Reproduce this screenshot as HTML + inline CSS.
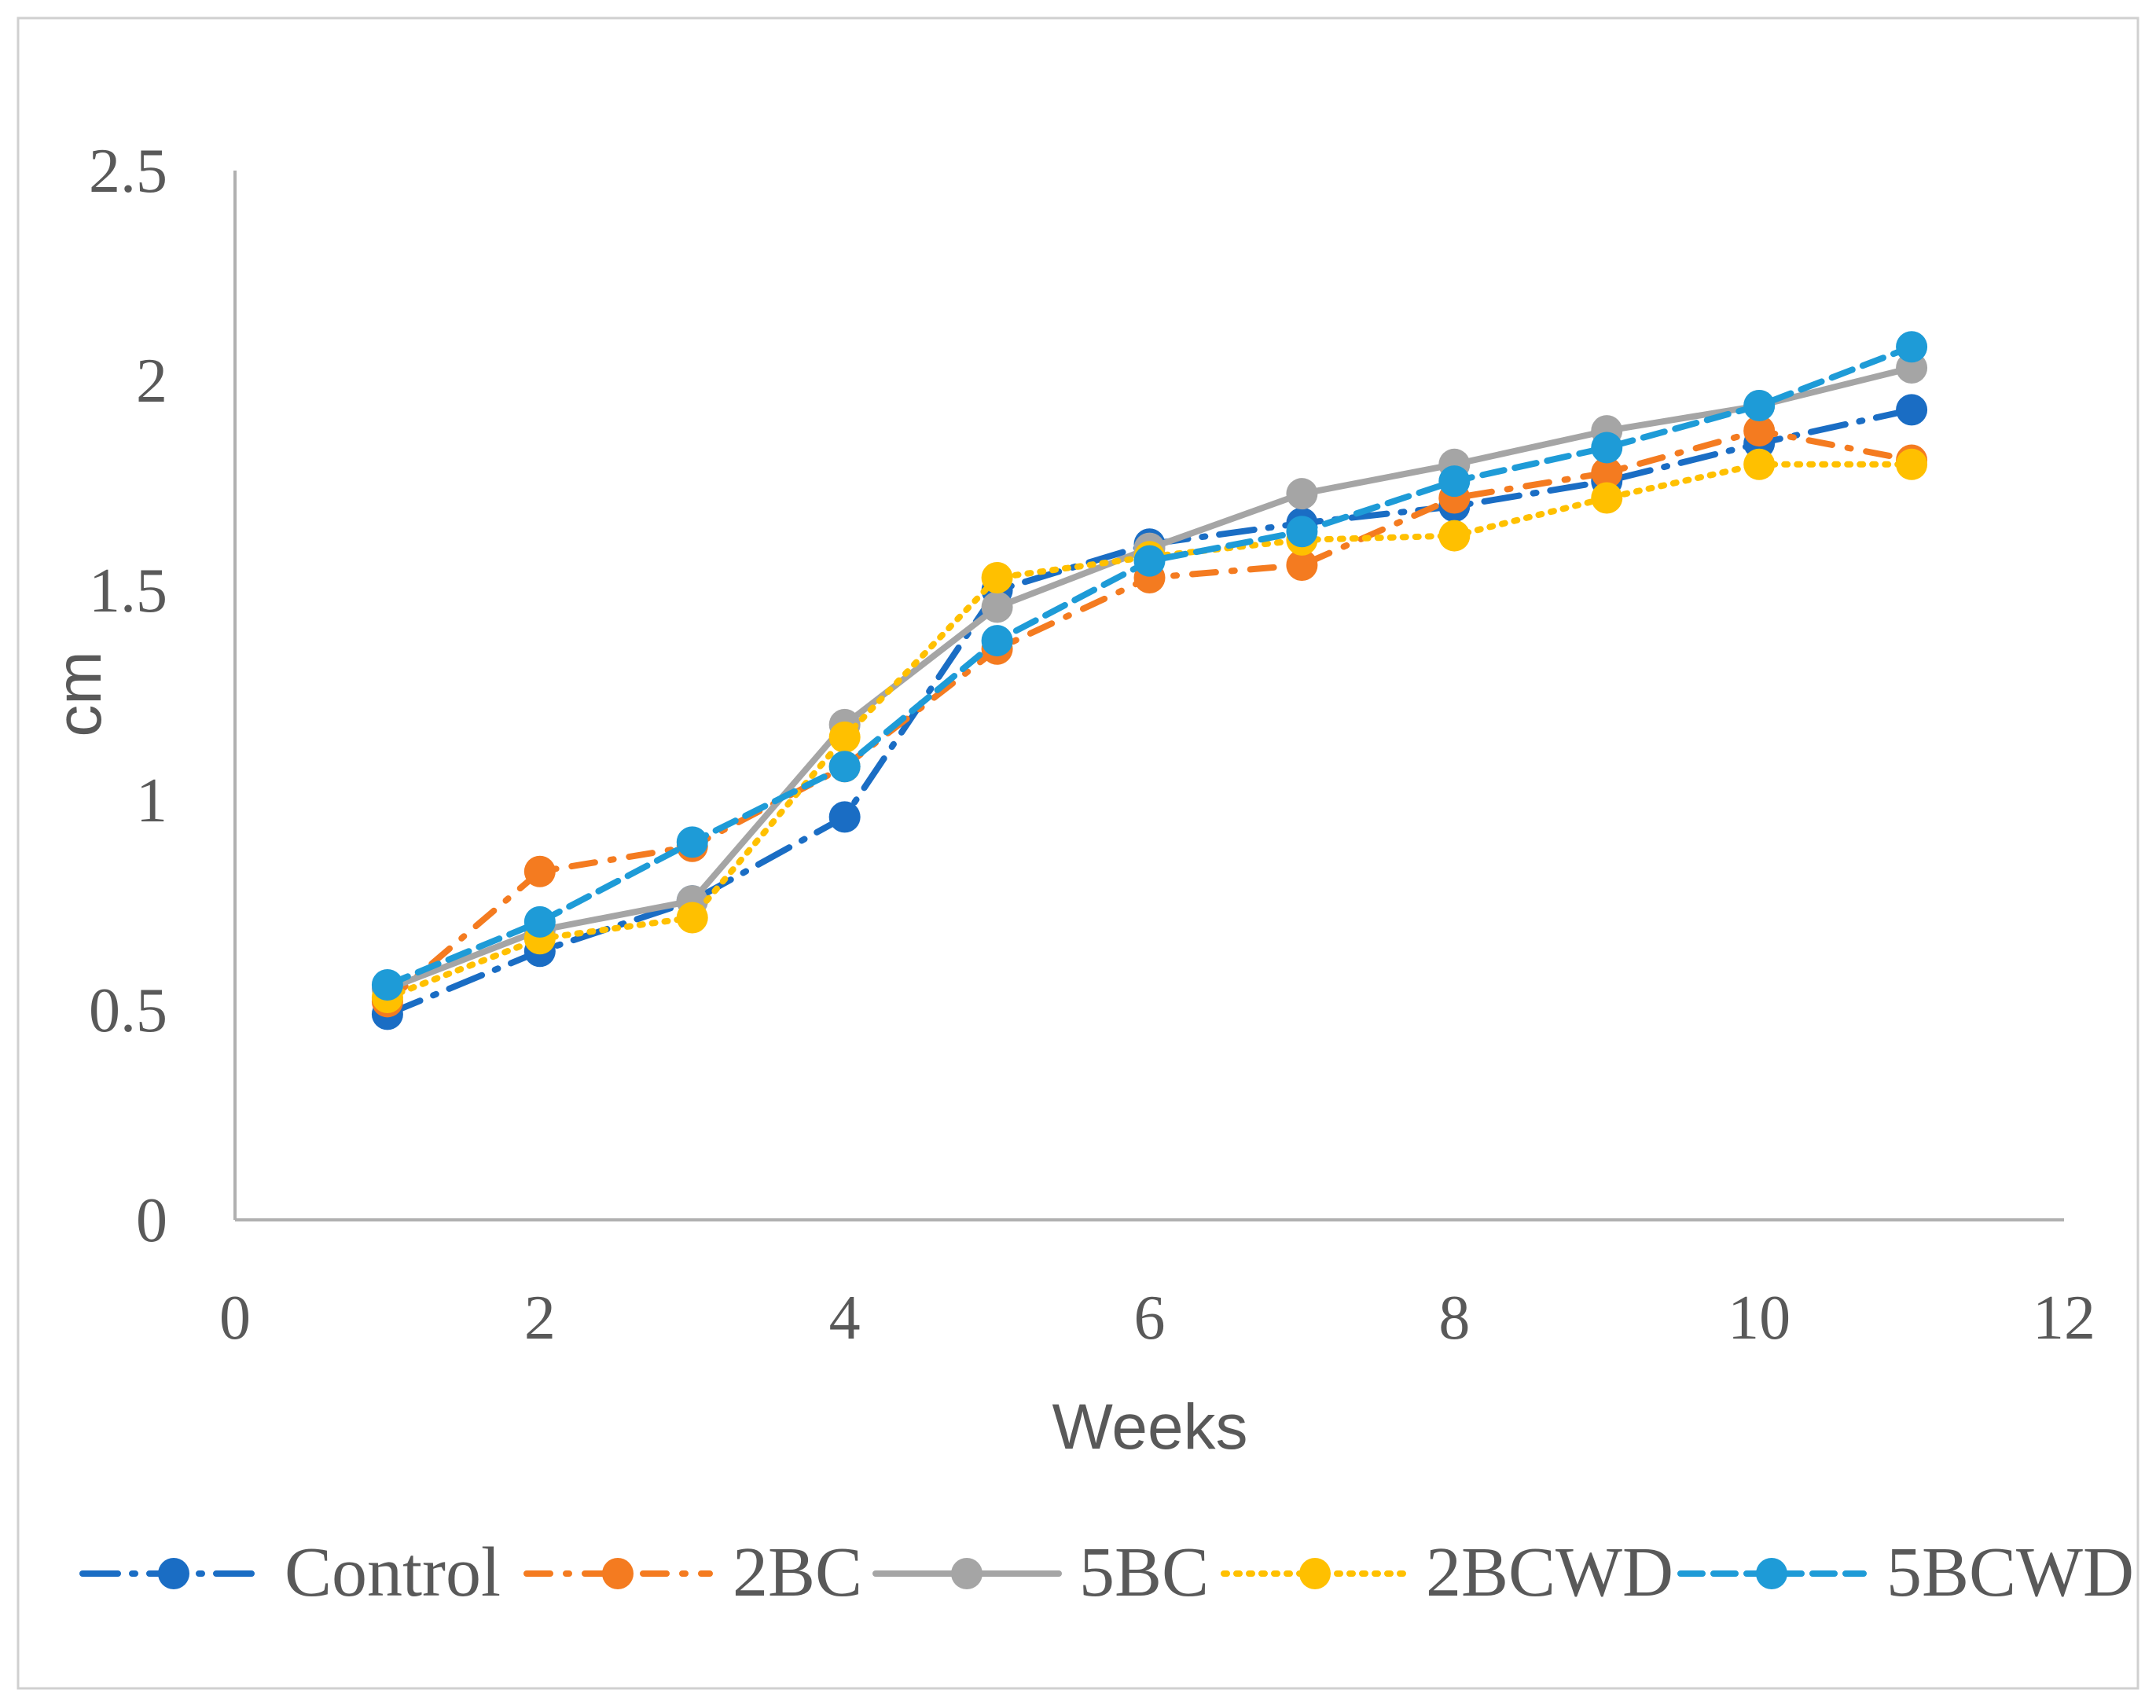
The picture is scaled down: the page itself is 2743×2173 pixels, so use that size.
<!DOCTYPE html>
<html><head><meta charset="utf-8"><style>
html,body{margin:0;padding:0;background:#fff}
svg{display:block}
</style></head><body>
<svg id="chart" width="2743" height="2173" viewBox="0 0 2743 2173" xmlns="http://www.w3.org/2000/svg">
<rect x="23" y="23" width="2697" height="2125" fill="#fff" stroke="#d0d0d0" stroke-width="3"/>
<g id="grid"></g>
<g id="series"></g>
<g id="legend"></g>
</svg>
<script>
const weeks = [1,2,3,4,5,6,7,8,9,10,11];
const controlVals = [0.49,0.64,0.76,0.96,1.50,1.61,1.66,1.70,1.76,1.85,1.93];
const bc2Vals = [0.52,0.83,0.89,1.08,1.36,1.53,1.56,1.72,1.78,1.88,1.81];
const bc5Vals = [0.55,0.69,0.76,1.18,1.46,1.60,1.73,1.80,1.88,1.94,2.03];
const bcwd2Vals = [0.53,0.67,0.72,1.15,1.53,1.58,1.62,1.63,1.72,1.80,1.80];
const bcwd5Vals = [0.56,0.71,0.90,1.08,1.38,1.57,1.64,1.76,1.84,1.94,2.08];
const xTicks = [0,2,4,6,8,10,12];
const yTicks = [0,0.5,1,1.5,2,2.5];
const yTickLabels = ["0","0.5","1","1.5","2","2.5"];
const seriesNames = ["Control","2BC","5BC","2BCWD","5BCWD"];

const NS="http://www.w3.org/2000/svg";
const X0=299,X1=2626,Y0=1552,Y1=217;
const xs=v=>X0+(v/12)*(X1-X0);
const ys=v=>Y0-(v/2.5)*(Y0-Y1);
function mk(tag,attrs,parent){const e=document.createElementNS(NS,tag);for(const k in attrs)e.setAttribute(k,attrs[k]);parent.appendChild(e);return e;}
const grid=document.getElementById('grid'),ser=document.getElementById('series'),leg=document.getElementById('legend');

let ax=mk('line',{x1:X0,y1:Y0,x2:X1,y2:Y0,stroke:'#b0b0b0','stroke-width':4},grid);


let ay=mk('line',{x1:X0,y1:Y0,x2:X0,y2:Y1,stroke:'#b0b0b0','stroke-width':4},grid);



yTicks.forEach((v,i)=>{
  const t=mk('text',{x:213,y:ys(v)+27,'text-anchor':'end','font-family':'Liberation Serif, serif','font-size':80,fill:'#595959'},grid);
  t.textContent=yTickLabels[i];
  
  
});
xTicks.forEach(v=>{
  const t=mk('text',{x:xs(v),y:1703,'text-anchor':'middle','font-family':'Liberation Serif, serif','font-size':80,fill:'#595959'},grid);
  t.textContent=String(v);
  
  
});
let xt=mk('text',{x:1463,y:1843,'text-anchor':'middle','font-family':'Liberation Sans, sans-serif','font-size':82,fill:'#595959'},grid);
xt.textContent='Weeks';


let yt=mk('text',{x:0,y:0,transform:'translate(128,883) rotate(-90)','text-anchor':'middle','font-family':'Liberation Sans, sans-serif','font-size':82,fill:'#595959'},grid);
yt.textContent='cm';



const styles=[
 {vals:controlVals,color:'#1a6dc4',dash:'45 18 4 18',name:'control'},
 {vals:bc2Vals,color:'#f47b20',dash:'30 20 4 20',name:'2bc'},
 {vals:bc5Vals,color:'#a5a5a5',dash:'',name:'5bc'},
 {vals:bcwd2Vals,color:'#ffc000',dash:'4 12',name:'2bcwd'},
 {vals:bcwd5Vals,color:'#1e9bd7',dash:'28 14',name:'5bcwd'}
];
styles.forEach(s=>{
  const g=mk('g',{},ser);
  
  
  const pts=weeks.map((w,i)=>xs(w)+','+ys(s.vals[i])).join(' ');
  const pl=mk('polyline',{points:pts,fill:'none',stroke:s.color,'stroke-width':8,'stroke-dasharray':s.dash,'stroke-linecap':'round','stroke-linejoin':'round'},g);
  
  
  weeks.forEach((w,i)=>{
    const c=mk('circle',{cx:xs(w),cy:ys(s.vals[i]),r:20,fill:s.color},g);
    
    
  });
});

const legX=[105,670,1114,1557,2138];
const legText=[362,932,1373,1814,2400];
styles.forEach((s,i)=>{
  const g=mk('g',{},leg);
  
  
  const lx=legX[i];
  mk('line',{x1:lx,y1:2002,x2:lx+233,y2:2002,stroke:s.color,'stroke-width':8,'stroke-dasharray':s.dash,'stroke-linecap':'round'},g);
  mk('circle',{cx:lx+116,cy:2002,r:20,fill:s.color},g);
  const t=mk('text',{x:legText[i],y:2030,'font-family':'Liberation Serif, serif','font-size':90,fill:'#595959'},g);
  t.textContent=seriesNames[i];
});
</script>
</body></html>
